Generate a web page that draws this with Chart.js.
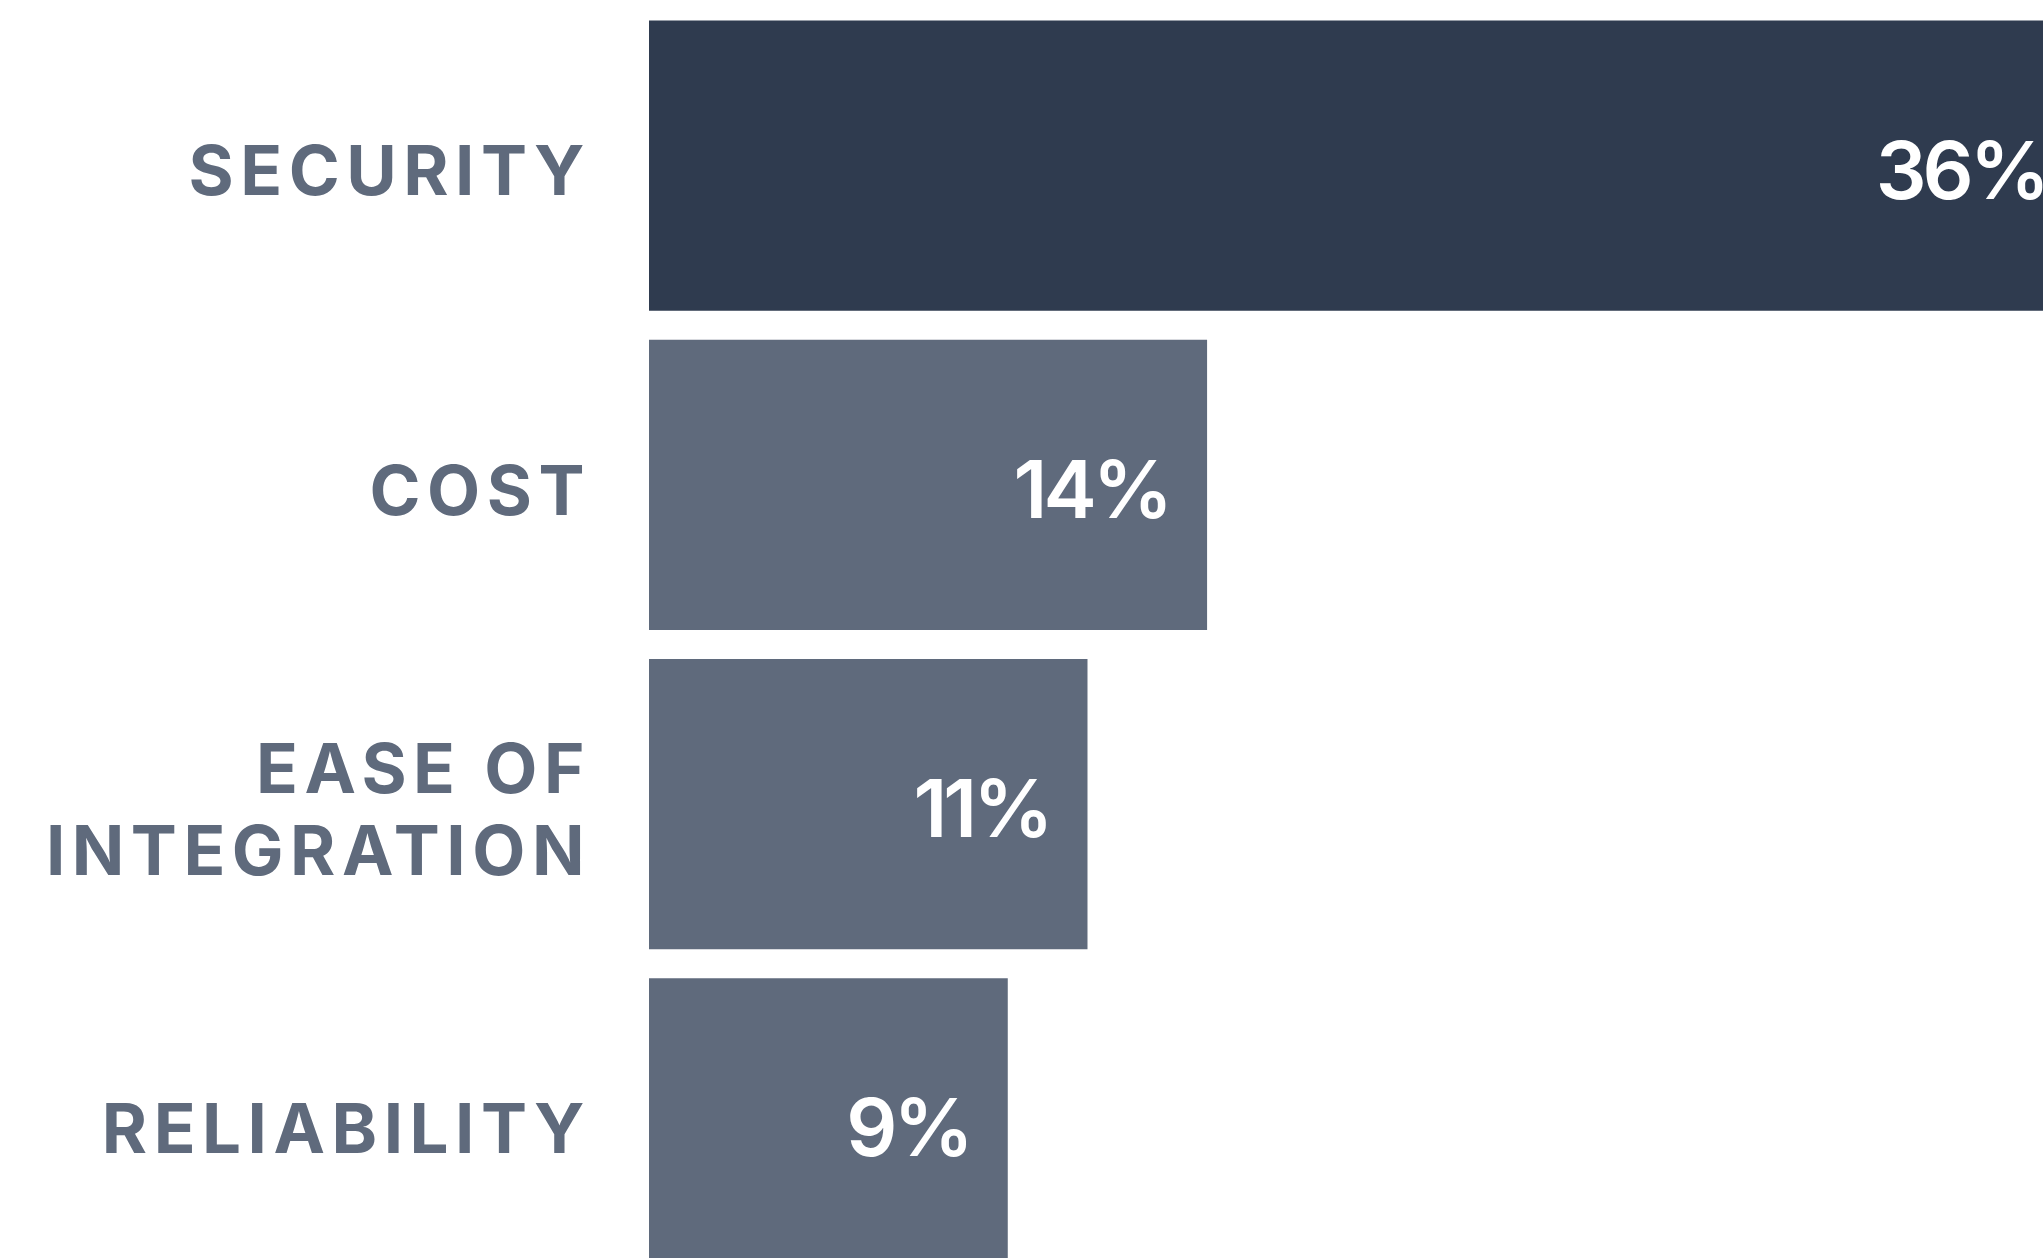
<!DOCTYPE html>
<html>
<head>
<meta charset="utf-8">
<script src="https://cdn.jsdelivr.net/npm/chart.js@4.4.1/dist/chart.umd.min.js"></script>
<style>
  html, body { margin: 0; padding: 0; background: #ffffff; overflow: hidden; }
  #wrap { position: absolute; left: 0; top: 0; width: 2104px; height: 1283px; }
</style>
</head>
<body>
<div id="wrap"><canvas id="chart" width="2104" height="1283"></canvas></div>
<script>
// Survey factors, share of respondents (%)
const categories = [
  'SECURITY',
  'COST',
  ['EASE OF', 'INTEGRATION'],
  'RELIABILITY'
];
const shares = [36, 14, 11, 9];
const barColors = ['#2f3b4f', '#5f6a7c', '#5f6a7c', '#5f6a7c'];

const labelColor = '#5f6a7c';
const tickSpacing = '6.5px';

// Wide tracking for the category names on the y axis only
const trackingPlugin = {
  id: 'tracking',
  beforeDraw(chart) { chart.ctx.letterSpacing = tickSpacing; },
  beforeDatasetsDraw(chart) { chart.ctx.letterSpacing = '0px'; }
};

// Percent value printed inside the end of each bar
const valueLabels = {
  id: 'valueLabels',
  afterDatasetsDraw(chart) {
    const ctx = chart.ctx;
    const meta = chart.getDatasetMeta(0);
    ctx.save();
    ctx.font = '600 80px Inter';
    ctx.fillStyle = '#ffffff';
    ctx.textAlign = 'right';
    ctx.textBaseline = 'alphabetic';
    ctx.letterSpacing = '-4px';
    meta.data.forEach((bar, i) => {
      ctx.fillText(shares[i] + '%', bar.x - 38, bar.y + 33);
    });
    ctx.restore();
  }
};

new Chart(document.getElementById('chart'), {
  type: 'bar',
  data: {
    labels: categories,
    datasets: [{
      data: shares,
      backgroundColor: barColors,
      borderWidth: 0,
      barPercentage: 0.909,
      categoryPercentage: 1.0
    }]
  },
  options: {
    indexAxis: 'y',
    responsive: false,
    animation: false,
    layout: { padding: { top: 6, right: 0, bottom: 0, left: 0 } },
    plugins: {
      legend: { display: false },
      tooltip: { enabled: false }
    },
    scales: {
      x: {
        display: false,
        min: 0,
        max: 36.5
      },
      y: {
        grid: { display: false },
        border: { display: false },
        afterFit(scale) {
          scale.width = 649;
          scale.paddingTop = 0;
          scale.paddingBottom = 0;
        },
        ticks: {
          color: labelColor,
          padding: 50,
          labelOffset: 9,
          font: { family: 'Inter', size: 69, weight: '700', lineHeight: 1.19 }
        }
      }
    }
  },
  plugins: [trackingPlugin, valueLabels]
});
</script>
</body>
</html>
